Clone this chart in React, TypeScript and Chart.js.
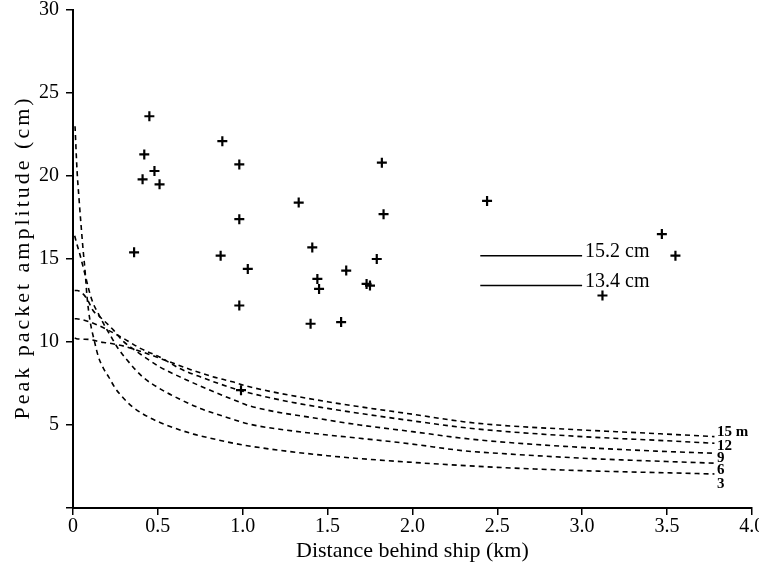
import React, { useEffect, useRef } from 'react';
import { Chart, registerables } from 'chart.js';

Chart.register(...registerables);

// ---- Data ----
const xTickValues = [0, 0.5, 1.0, 1.5, 2.0, 2.5, 3.0, 3.5, 4.0];
const yTickValues = [0, 5, 10, 15, 20, 25, 30];

const xTitle = 'Distance behind ship (km)';
const yTitle = 'Peak packet amplitude (cm)';

const curveNames = ['3', '6', '9', '12', '15 m'];

const x3 = [0.012, 0.024, 0.035, 0.047, 0.06, 0.071, 0.083, 0.1, 0.125, 0.15, 0.18, 0.21, 0.25, 0.29, 0.35, 0.45, 0.55, 0.71, 0.79, 1.0, 1.5, 2.0, 2.5, 3.0, 3.5, 3.78];
const y3 = [23.0, 20.3, 18.7, 17.1, 15.5, 14.3, 12.7, 11.3, 10.1, 9.1, 8.4, 7.9, 7.2, 6.7, 6.1, 5.45, 5.0, 4.45, 4.25, 3.8, 3.15, 2.75, 2.45, 2.25, 2.12, 2.05];

const x6 = [0.01, 0.02, 0.04, 0.06, 0.08, 0.1, 0.12, 0.15, 0.18, 0.22, 0.26, 0.32, 0.41, 0.51, 0.63, 0.75, 0.94, 1.04, 1.25, 1.5, 1.69, 2.0, 2.3, 2.5, 3.0, 3.5, 3.78];
const y6 = [16.4, 16.0, 15.3, 14.5, 13.7, 12.9, 12.3, 11.7, 11.1, 10.4, 9.7, 8.9, 7.9, 7.2, 6.55, 6.0, 5.35, 5.05, 4.7, 4.4, 4.2, 3.85, 3.45, 3.3, 3.0, 2.8, 2.7];

const x9 = [0.01, 0.024, 0.059, 0.088, 0.118, 0.16, 0.24, 0.29, 0.38, 0.45, 0.51, 0.63, 0.75, 1.0, 1.04, 1.5, 1.69, 2.0, 2.3, 2.5, 3.0, 3.5, 3.78];
const y9 = [13.1, 13.1, 12.9, 12.5, 11.9, 11.5, 10.7, 10.1, 9.4, 8.9, 8.5, 7.9, 7.35, 6.3, 6.15, 5.3, 5.0, 4.6, 4.2, 4.0, 3.65, 3.4, 3.3];

const x12 = [0.01, 0.02, 0.05, 0.1, 0.15, 0.2, 0.3, 0.4, 0.51, 0.63, 0.75, 0.98, 1.25, 1.5, 1.69, 2.0, 2.3, 2.5, 3.0, 3.5, 3.78];
const y12 = [11.4, 11.4, 11.35, 11.2, 11.0, 10.75, 10.2, 9.6, 9.1, 8.4, 7.9, 7.1, 6.45, 6.0, 5.7, 5.25, 4.85, 4.65, 4.3, 4.05, 3.9];

const x15 = [0.01, 0.02, 0.1, 0.16, 0.2, 0.3, 0.45, 0.57, 0.69, 0.81, 0.94, 1.04, 1.5, 1.69, 2.0, 2.3, 2.5, 3.0, 3.5, 3.78];
const y15 = [10.25, 10.2, 10.15, 10.0, 9.95, 9.75, 9.25, 8.8, 8.35, 7.95, 7.6, 7.3, 6.4, 6.1, 5.65, 5.2, 5.0, 4.7, 4.45, 4.3];

const obsX = [0.45, 0.42, 0.48, 0.41, 0.51, 0.36, 0.88, 0.98, 0.98, 0.87, 1.03, 0.98, 0.99, 1.33, 1.41, 1.44, 1.45, 1.40, 1.61, 1.58, 1.73, 1.75, 1.79, 1.82, 1.83, 2.44, 3.12, 3.47, 3.55];
const obsY = [23.6, 21.3, 20.3, 19.8, 19.5, 15.4, 22.1, 20.7, 17.4, 15.2, 14.4, 12.2, 7.1, 18.4, 15.7, 13.8, 13.2, 11.1, 14.3, 11.2, 13.5, 13.4, 15.0, 20.8, 17.7, 18.5, 12.8, 16.5, 15.2];

const refLabels = ['15.2 cm', '13.4 cm'];
const refValues = [15.2, 13.4];
const refXStart = 2.4;
const refXEnd = 3.0;

const FONT = '"Liberation Serif", "DejaVu Serif", serif';

const zip = (xs: number[], ys: number[]) => xs.map((x, i) => ({ x, y: ys[i] }));

const curveX = [x3, x6, x9, x12, x15];
const curveY = [y3, y6, y9, y12, y15];
const labelDy = [10, 7, 5, 3, -4];

const textPlugin = {
  id: 'textLabels',
  afterDatasetsDraw(chart: any) {
    const { ctx, scales, chartArea } = chart;
    const xs = scales.x;
    const ys = scales.y;
    ctx.save();
    ctx.fillStyle = '#000';
    // curve labels
    ctx.font = `bold 15px ${FONT}`;
    ctx.textAlign = 'left';
    ctx.textBaseline = 'middle';
    curveNames.forEach((name, i) => {
      const yv = curveY[i][curveY[i].length - 1];
      const px = xs.getPixelForValue(3.795);
      const py = ys.getPixelForValue(yv) + labelDy[i];
      ctx.fillText(name, px, py);
    });
    // reference line labels
    ctx.font = `20px ${FONT}`;
    ctx.textBaseline = 'alphabetic';
    refLabels.forEach((t, i) => {
      const px = xs.getPixelForValue(refXEnd) + 3;
      const py = ys.getPixelForValue(refValues[i]) + 1;
      ctx.fillText(t, px, py);
    });
    ctx.restore();

    // y axis title (letter-spaced, rotated)
    ctx.save();
    ctx.font = `22px ${FONT}`;
    ctx.fillStyle = '#000';
    const spacing = 3;
    try {
      (ctx as any).letterSpacing = `${spacing}px`;
    } catch (e) {}
    const w = ctx.measureText(yTitle).width - spacing;
    const cy = (chartArea.top + chartArea.bottom) / 2;
    ctx.translate(23, cy);
    ctx.rotate(-Math.PI / 2);
    ctx.textAlign = 'left';
    ctx.textBaseline = 'middle';
    ctx.fillText(yTitle, -w / 2, 0);
    ctx.restore();
  },
};

export default function App() {
  const ref = useRef<HTMLCanvasElement | null>(null);

  useEffect(() => {
    if (!ref.current) return;
    const curveDatasets = curveX.map((xs, i) => ({
      type: 'line' as const,
      label: curveNames[i],
      data: zip(xs, curveY[i]),
      borderColor: '#000',
      borderWidth: 1.6,
      borderDash: [5, 4],
      pointRadius: 0,
      fill: false,
      cubicInterpolationMode: 'monotone' as const,
    }));
    const refDatasets = refValues.map((v, i) => ({
      type: 'line' as const,
      label: refLabels[i],
      data: [
        { x: refXStart, y: v },
        { x: refXEnd, y: v },
      ],
      borderColor: '#000',
      borderWidth: 1.4,
      pointRadius: 0,
      fill: false,
    }));
    const chart = new Chart(ref.current, {
      type: 'scatter',
      data: {
        datasets: [
          ...curveDatasets,
          ...refDatasets,
          {
            type: 'scatter' as const,
            label: 'observed',
            data: zip(obsX, obsY),
            pointStyle: 'cross',
            pointRadius: 5,
            borderWidth: 2.2,
            borderColor: '#000',
            backgroundColor: '#000',
          },
        ] as any,
      },
      options: {
        responsive: false,
        animation: false,
        events: [],
        layout: { padding: { left: 0, top: 10, right: 7, bottom: 0 } },
        plugins: {
          legend: { display: false },
          tooltip: { enabled: false },
        },
        scales: {
          x: {
            type: 'linear',
            min: 0,
            max: 4,
            afterBuildTicks: (s: any) => {
              s.ticks = xTickValues.map((v) => ({ value: v }));
            },
            afterFit: (s: any) => {
              s.height = 68;
              s.paddingLeft = 0;
              s.paddingRight = 0;
            },
            ticks: {
              color: '#000',
              font: { family: FONT, size: 20 },
              padding: 0,
              maxRotation: 0,
              autoSkip: false,
              callback: (v: any) => (Number(v) === 0 ? '0' : Number(v).toFixed(1)),
            },
            grid: { drawOnChartArea: false, drawTicks: true, tickLength: 7, color: '#000', lineWidth: 1.5 },
            border: { display: true, color: '#000', width: 2 },
            title: {
              display: true,
              text: xTitle,
              color: '#000',
              font: { family: FONT, size: 22 },
              padding: { top: 0, bottom: 12 },
            },
          },
          y: {
            type: 'linear',
            min: 0,
            max: 30,
            afterBuildTicks: (s: any) => {
              s.ticks = yTickValues.map((v) => ({ value: v }));
            },
            afterFit: (s: any) => {
              s.width = 73;
              s.paddingTop = 0;
              s.paddingBottom = 0;
            },
            ticks: {
              color: '#000',
              font: { family: FONT, size: 20 },
              padding: 7,
              autoSkip: false,
              callback: (v: any) => (Number(v) === 0 ? '' : String(v)),
            },
            grid: { drawOnChartArea: false, drawTicks: true, tickLength: 7, color: '#000', lineWidth: 1.5 },
            border: { display: true, color: '#000', width: 2 },
            title: { display: false },
          },
        },
      },
      plugins: [textPlugin],
    });
    return () => chart.destroy();
  }, []);

  return (
    <div style={{ position: 'fixed', left: 0, top: 0, width: 759, height: 576, background: '#fff' }}>
      <canvas ref={ref} width={759} height={576} style={{ display: 'block' }} />
    </div>
  );
}
